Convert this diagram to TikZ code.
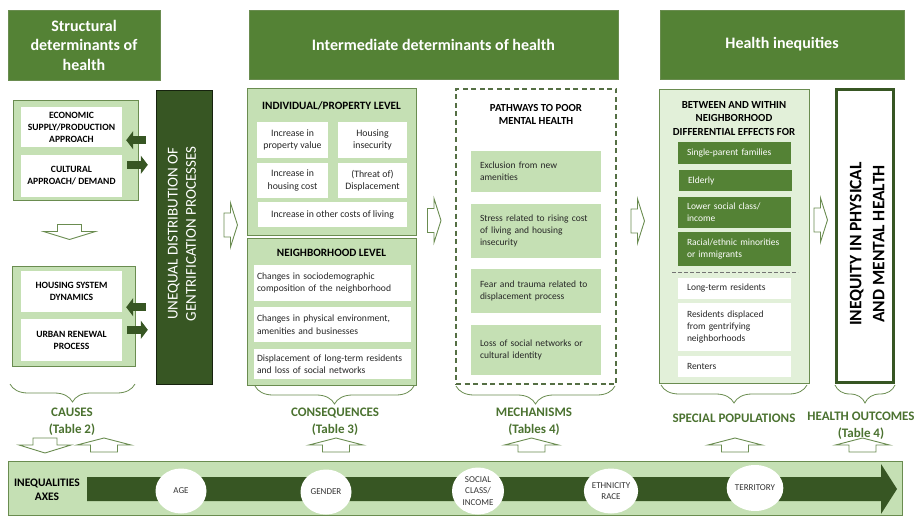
\documentclass[tikz,border=0pt]{standalone}
\usepackage{fontspec}
\setmainfont{Carlito}
\usepackage{tikz}
\usetikzlibrary{positioning,calc,arrows.meta,decorations.pathreplacing,shapes.geometric}

\definecolor{hdrgreen}{HTML}{548235}
\definecolor{darkgreen}{HTML}{375623}
\definecolor{lightgreen}{HTML}{C5E0B4}
\definecolor{palegreen}{HTML}{E2F0D9}
\definecolor{edgegreen}{HTML}{6A8C50}
\definecolor{labelgreen}{HTML}{4B7230}

\tikzset{
    nohyph/.style={execute at begin node={\hyphenpenalty=10000\exhyphenpenalty=10000}},
    header/.style={draw=edgegreen, fill=hdrgreen, text=white, align=center, inner sep=0pt,
        font=\fontsize{16}{19.5}\selectfont\bfseries},
    panel/.style={draw=edgegreen, fill=lightgreen, line width=0.9pt, inner sep=0pt},
    capsbox/.style={fill=white, inner sep=0pt, align=center, font=\fontsize{9.6}{12}\selectfont\bfseries},
    cbox/.style={fill=white, inner sep=0pt, align=center, text=black!85, font=\fontsize{9.8}{12.5}\selectfont},
    lbox/.style={nohyph, fill=white, inner xsep=3pt, inner ysep=0pt, align=left, text=black!85,
        font=\fontsize{9.6}{12.4}\selectfont},
    gbox/.style={nohyph, fill=lightgreen, inner xsep=9pt, inner ysep=0pt, align=left, text=black!85,
        text width=112pt, font=\fontsize{9.5}{12.3}\selectfont},
    dbox/.style={nohyph, fill=hdrgreen, inner xsep=9pt, inner ysep=0pt, align=left, text=white,
        text width=95pt, font=\fontsize{9.5}{12.3}\selectfont},
    wbox/.style={dbox, fill=white, text=black!85},
    title/.style={align=center, inner sep=0pt, font=\fontsize{10.8}{13.5}\selectfont\bfseries},
    lbl/.style={align=center, inner sep=0pt, text=labelgreen, font=\fontsize{13}{17}\selectfont\bfseries},
    bracestyle/.style={draw=edgegreen, line width=0.8pt, decorate, decoration={brace, mirror, amplitude=18pt}},
    fatarrow/.style={draw=darkgreen, line width=8pt, -{Triangle[length=7pt, width=18pt]}},
    hollow/.style={draw=edgegreen, fill=white, line width=0.9pt, line join=miter},
    axisnode/.style={ellipse, fill=white, inner sep=0pt, minimum width=51pt, minimum height=45pt,
        align=center, text=black!80, font=\fontsize{9}{11.2}\selectfont},
    pics/uparr/.style={code={
        \draw[hollow] (-13.5,7) -- (-13.5,0) -- (-27,0) -- (0,-7) -- (27,0) -- (13.5,0) -- (13.5,7) -- cycle;}},
    pics/darr/.style={code={
        \draw[hollow] (-12,-7) -- (12,-7) -- (12,0) -- (26,0) -- (0,8) -- (-26,0) -- (-12,0) -- cycle;}},
    pics/rarr/.style={code={
        \draw[hollow] (-6.5,-12) -- (0,-12) -- (0,-22) -- (7,0) -- (0,22) -- (0,12) -- (-6.5,12) -- cycle;}}
}

\begin{document}
\begin{tikzpicture}[x=1pt, y=-1pt]
    \useasboundingbox (0,0) rectangle (920,516);

    \node[header, minimum width=152pt, minimum height=70pt] (hstruct) at (84,45) {Structural\\determinants of\\health};
    \node[header, minimum width=369pt, minimum height=69pt] (hinter) at (433.5,44.5) {Intermediate determinants of health};
    \node[header, minimum width=244pt, minimum height=69pt] (hineq) at (782,44.5) {Health inequities};

    \node[panel, minimum width=125pt, minimum height=100pt] (ctop) at (75.5,150) {};
    \node[capsbox, minimum width=101pt, minimum height=40pt] (econ) at (71.5,127) {ECONOMIC\\SUPPLY/PRODUCTION\\APPROACH};
    \node[capsbox, minimum width=101pt, minimum height=42pt] (cult) at (71.5,176) {CULTURAL\\APPROACH/ DEMAND};
    \pic at (69.5,231.5) {darr};
    \node[panel, minimum width=123pt, minimum height=100pt] (cbot) at (73.5,316) {};
    \node[capsbox, minimum width=101pt, minimum height=41pt] (housing) at (71.5,291.5) {HOUSING SYSTEM\\DYNAMICS};
    \node[capsbox, minimum width=101pt, minimum height=42pt] (urban) at (71.5,340) {URBAN RENEWAL\\PROCESS};

    \node[fill=darkgreen, draw=black!60!darkgreen, minimum width=56pt, minimum height=294pt, inner sep=0pt] (bar) at (184,237) {};
    \node[rotate=90, text=white, align=center, font=\fontsize{15}{18.3}\selectfont] (barlabel) at (182,234) {UNEQUAL DISTRIBUTION OF\\GENTRIFICATION PROCESSES};

    \draw[fatarrow] ([xshift=-10pt, yshift=7pt]bar.west |- econ.south) -- ([xshift=4pt, yshift=7pt]econ.south east);
    \draw[fatarrow] ([xshift=5pt, yshift=-10pt]cult.north east) -- ([xshift=-8pt, yshift=-10pt]bar.west |- cult.north);
    \draw[fatarrow] ([xshift=-10pt, yshift=5pt]bar.west |- housing.south) -- ([xshift=4pt, yshift=5pt]housing.south east);
    \draw[fatarrow] ([xshift=5pt, yshift=-11pt]urban.north east) -- ([xshift=-8pt, yshift=-11pt]bar.west |- urban.north);

    \foreach \x/\y in {230.5/225, 434/220.5, 637.5/221, 820.5/220}
        \pic at (\x,\y) {rarr};

    \node[panel, minimum width=169pt, minimum height=147pt] (indiv) at (331.5,161.5) {};
    \node[title, font=\fontsize{11.2}{13.5}\selectfont\bfseries] (indivtitle) at (331.5,106) {INDIVIDUAL/PROPERTY LEVEL};
    \node[cbox, minimum width=71pt, minimum height=36pt] (propval) at (292.5,140) {Increase in\\property value};
    \node[cbox, minimum width=69pt, minimum height=36pt] (insec) at (372.5,140) {Housing\\insecurity};
    \node[cbox, minimum width=71pt, minimum height=35pt] (hcost) at (292.5,180.5) {Increase in\\housing cost};
    \node[cbox, minimum width=69pt, minimum height=35pt] (displ) at (372.5,180.5) {(Threat of)\\Displacement};
    \node[cbox, minimum width=149pt, minimum height=25pt] (living) at (332.5,214.5) {Increase in other costs of living};

    \node[panel, minimum width=169pt, minimum height=147pt] (neigh) at (331.5,311.5) {};
    \node[title, font=\fontsize{11.2}{13.5}\selectfont\bfseries] (neightitle) at (331.5,253) {NEIGHBORHOOD LEVEL};
    \node[lbox, text width=151pt, minimum height=36pt] (sociodem) at (332.5,283) {Changes in sociodemographic\\composition of the neighborhood};
    \node[lbox, text width=151pt, minimum height=35pt] (physenv) at (332.5,324.5) {Changes in physical environment,\\amenities and businesses};
    \node[lbox, text width=151pt, minimum height=30pt] (residents) at (332.5,364) {Displacement of long-term residents\\and loss of social networks};

    \node[draw=darkgreen!85, line width=1.2pt, dash pattern=on 5pt off 3.5pt, minimum width=160pt, minimum height=295pt, inner sep=0pt] (mech) at (536,236.5) {};
    \node[title] (mechtitle) at (536,114.5) {PATHWAYS TO POOR\\MENTAL HEALTH};
    \node[gbox, minimum height=41pt] (exclusion) at (536,171.5) {Exclusion from new\\amenities};
    \node[gbox, minimum height=54pt] (stress) at (536,231) {Stress related to rising cost\\of living and housing\\insecurity};
    \node[gbox, minimum height=44pt] (fear) at (536,291) {Fear and trauma related to\\displacement process};
    \node[gbox, minimum height=50pt] (loss) at (536,350) {Loss of social networks or\\cultural identity};

    \node[draw=edgegreen, fill=palegreen, line width=0.9pt, minimum width=150pt, minimum height=294pt, inner sep=0pt] (spec) at (734,236) {};
    \node[title] (spectitle) at (734,118.5) {BETWEEN AND WITHIN\\NEIGHBORHOOD\\DIFFERENTIAL EFFECTS FOR};
    \node[dbox, minimum height=22pt] (single) at (734.5,153) {Single-parent families};
    \node[dbox, minimum height=21pt] (elderly) at (735.5,180.5) {Elderly};
    \node[dbox, minimum height=31pt] (lower) at (734.5,212.5) {Lower social class/\\income};
    \node[dbox, minimum height=34pt] (racial) at (734.5,249) {Racial/ethnic minorities\\or immigrants};
    \draw[black!55, line width=0.8pt, dash pattern=on 4pt off 2pt] (672,272) -- (798,272);
    \node[wbox, minimum height=21pt] (longres) at (734.5,288.5) {Long-term residents};
    \node[wbox, minimum height=48pt] (displaced) at (734.5,327) {Residents displaced\\from gentrifying\\neighborhoods};
    \node[wbox, minimum height=21pt] (renters) at (734.5,366.5) {Renters};

    \node[draw=darkgreen, line width=3pt, fill=white, minimum width=57pt, minimum height=293pt, inner sep=0pt] (outcome) at (865,236) {};
    \node[rotate=90, align=center, font=\fontsize{17.5}{23}\selectfont\bfseries] (outlabel) at (867,244) {INEQUITY IN PHYSICAL\\AND MENTAL HEALTH};

    \draw[bracestyle] (10,384) -- (135,384);
    \draw[bracestyle] (255,386) -- (414,386);
    \draw[bracestyle] (456,386) -- (615,386);
    \draw[bracestyle] (661,385) -- (807,385);
    \draw[bracestyle] (835,385) -- (895,385);
    \node[lbl] (causes) at (72,421.5) {CAUSES\\(Table 2)};
    \node[lbl] (conseq) at (335,421.5) {CONSEQUENCES\\(Table 3)};
    \node[lbl] (mechan) at (534,421.5) {MECHANISMS\\(Tables 4)};
    \node[lbl] (specpop) at (734,418) {SPECIAL POPULATIONS};
    \node[lbl] (health) at (861,425.5) {HEALTH OUTCOMES\\(Table 4)};

    \pic at (45,445) {darr};
    \foreach \x in {104,336,531.5,735,862.5}
        \pic at (\x,445) {uparr};

    \node[draw=edgegreen, fill=lightgreen, line width=0.9pt, minimum width=894pt, minimum height=54pt, inner sep=0pt] (band) at (455,488) {};
    \fill[darkgreen] (87,477) -- (881,477) -- (881,464) -- (897,489) -- (881,514) -- (881,501) -- (87,501) -- cycle;
    \node[align=center, font=\fontsize{11.5}{14}\selectfont\bfseries] (axes) at (47,490) {INEQUALITIES\\AXES};
    \node[axisnode] (age) at (181,491) {AGE};
    \node[axisnode] (gender) at (326,492) {GENDER};
    \node[axisnode, minimum width=52pt, minimum height=47pt] (social) at (478,491) {SOCIAL\\CLASS/\\INCOME};
    \node[axisnode, minimum width=47pt] (ethnic) at (611,491) {ETHNICITY\\RACE};
    \node[axisnode, minimum width=46pt, minimum height=46pt] (territory) at (755,488) {TERRITORY};
\end{tikzpicture}
\end{document}
